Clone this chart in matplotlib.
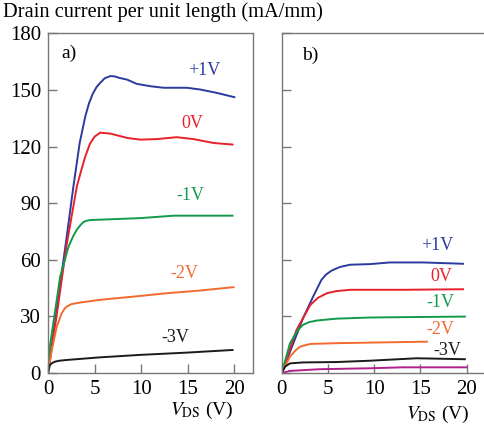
#!/usr/bin/env python3

import matplotlib
matplotlib.use("Agg")
from matplotlib import pyplot as plt

# panel a) curves (V_DS in V, drain current in mA/mm)
a_p1_x = [0, 1.0, 2.0, 2.7, 3.4, 4.0, 4.4, 4.8, 5.2, 5.6, 6.1, 6.7, 7.2, 7.6, 8.5, 9.5, 11.0, 12.4, 14.9, 16.3, 18.1, 20.0]
a_p1_y = [0, 36, 72, 98, 122, 136, 143, 148, 151.5, 153.8, 156.3, 157.4, 157.2, 156.5, 155.5, 153.3, 152, 151.2, 151.2, 150.3, 148.5, 146.2]
a_0_x = [0, 1.0, 2.0, 3.1, 3.6, 4.0, 4.5, 5.0, 5.6, 6.7, 8.5, 9.9, 11.7, 13.8, 15.6, 17.8, 19.8]
a_0_y = [0, 33, 68, 99, 108, 114.8, 121.5, 125.3, 127.4, 126.9, 124.6, 123.7, 124, 125, 124, 121.9, 121.1]
a_m1_x = [0, 0.2, 1.3, 2.2, 2.7, 3.1, 3.5, 3.8, 4.2, 4.6, 5.2, 9.9, 13.5, 19.8]
a_m1_y = [0, 14, 51, 67, 72.5, 76, 78.5, 80, 80.8, 81.1, 81.2, 82.1, 83.4, 83.4]
a_m2_x = [0, 0.4, 0.94, 1.47, 1.8, 2.0, 2.5, 3.5, 5.6, 9.2, 12.8, 16.3, 19.9]
a_m2_y = [0, 12, 24.6, 31.7, 34.2, 35.2, 36.5, 37.4, 38.8, 40.5, 42.3, 43.7, 45.5]
a_m3_x = [0, 0.2, 0.45, 0.75, 1.2, 2.0, 5.6, 9.9, 14.9, 19.8]
a_m3_y = [0, 4.2, 5.3, 6, 6.5, 6.9, 8.3, 9.6, 10.8, 12.2]

# panel b) curves
b_p1_x = [0, 1.2, 2.3, 3.4, 4.3, 4.8, 5.4, 6.3, 7.4, 9.5, 11.7, 15.3, 19.6]
b_p1_y = [0, 15, 29, 40.5, 49.4, 52.2, 54.3, 56.2, 57.4, 57.7, 58.6, 58.6, 57.9]
b_0_x = [0, 1.6, 3.1, 3.9, 4.9, 5.9, 7.4, 13.1, 19.6]
b_0_y = [0, 22.8, 36.1, 39.8, 42.3, 43.4, 44.1, 44.1, 44.4]
b_m1_x = [0, 0.9, 1.7, 2.3, 3.0, 3.8, 5.9, 9.5, 13.1, 19.8]
b_m1_y = [0, 15.8, 22.5, 25.5, 27, 27.8, 28.8, 29.4, 29.6, 29.9]
b_m2_x = [0, 0.9, 1.5, 2.0, 3.1, 5.9, 9.5, 15.7]
b_m2_y = [0, 8.7, 12, 14, 15.4, 15.8, 16.1, 16.6]
b_m3_x = [0, 0.4, 0.9, 2.3, 5.9, 9.5, 14.6, 19.8]
b_m3_y = [0, 3.5, 5.1, 5.6, 5.8, 6.5, 7.8, 7.3]
b_mg_x = [0, 0.9, 4.1, 9.5, 13.1, 20.0]
b_mg_y = [0, 1.1, 2.0, 2.5, 3.0, 3.0]

gate_labels = ["+1V", "0V", "-1V", "-2V", "-3V"]
colors = ["#2B3A9E", "#E8202A", "#129A4A", "#F26A2E", "#1A1A1A"]
magenta = "#B0208C"

a_label_pos = [(16.8, 160.4), (15.5, 132.2), (15.3, 94), (14.6, 52.6), (13.7, 18.6)]
b_label_pos = [(16.8, 67.4), (17.3, 51), (17.1, 37.2), (17.2, 22.8), (17.9, 11.7)]

x_ticks = [0, 5, 10, 15, 20]
y_ticks = [0, 30, 60, 90, 120, 150, 180]


def style_axes(ax, show_ylabels):
    ax.set_xlim(0, 22)
    ax.set_ylim(0, 180)
    ax.set_xticks(x_ticks)
    ax.set_yticks(y_ticks)
    ax.tick_params(direction="in", length=6.5, width=1.0, color="#777777",
                   labelsize=15, pad=5)
    if not show_ylabels:
        ax.set_yticklabels([])
    for s in ax.spines.values():
        s.set_color("#777777")
        s.set_linewidth(1.0)


def main():
    plt.rcParams["font.family"] = ["Liberation Serif", "DejaVu Serif"]
    plt.rcParams["mathtext.fontset"] = "stix"

    fig = plt.figure(figsize=(4.84, 4.32), dpi=100)
    ax1 = fig.add_axes([0.0992, 0.1366, 0.4236, 0.786])
    ax2 = fig.add_axes([0.582, 0.1366, 0.4205, 0.786])

    a_xs = [a_p1_x, a_0_x, a_m1_x, a_m2_x, a_m3_x]
    a_ys = [a_p1_y, a_0_y, a_m1_y, a_m2_y, a_m3_y]
    for x, y, c, lab, pos in zip(a_xs, a_ys, colors, gate_labels, a_label_pos):
        ax1.plot(x, y, color=c, lw=1.4)
        ax1.text(pos[0], pos[1], lab, color=c, fontsize=13, ha="center", va="center")

    b_xs = [b_p1_x, b_0_x, b_m1_x, b_m2_x, b_m3_x]
    b_ys = [b_p1_y, b_0_y, b_m1_y, b_m2_y, b_m3_y]
    for x, y, c, lab, pos in zip(b_xs, b_ys, colors, gate_labels, b_label_pos):
        ax2.plot(x, y, color=c, lw=1.4)
        ax2.text(pos[0], pos[1], lab, color=c, fontsize=13, ha="center", va="center")
    ax2.plot(b_mg_x, b_mg_y, color=magenta, lw=1.4)

    style_axes(ax1, True)
    style_axes(ax2, False)
    ax2.spines["right"].set_visible(False)

    ax1.text(0.1, 0.94, "a)", transform=ax1.transAxes, fontsize=14, ha="center", va="center")
    ax2.text(0.14, 0.935, "b)", transform=ax2.transAxes, fontsize=14, ha="center", va="center")

    fig.text(0.006, 0.972, "Drain current per unit length (mA/mm)", fontsize=14.7,
             ha="left", va="center")
    fig.text(202 / 484, 1 - 410 / 432, r"$V_{\mathrm{DS}}$ (V)", fontsize=14,
             ha="center", va="center")
    fig.text(438 / 484, 1 - 414 / 432, r"$V_{\mathrm{DS}}$ (V)", fontsize=14,
             ha="center", va="center")

    fig.savefig("out.png", dpi=100)


if __name__ == "__main__":
    main()
